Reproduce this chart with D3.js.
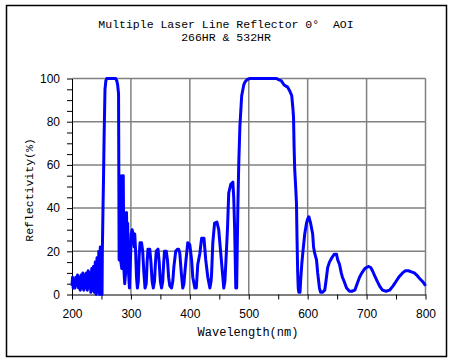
<!DOCTYPE html>
<html lang="en">

<head>
    <meta charset="UTF-8">
    <title>Multiple Laser Line Reflector</title>
    <script src="https://d3js.org/d3.v7.min.js"></script>
    <style>
        body { margin: 0; background: #fff; }
        svg { display: block; }
        .tick text { font-family: "Liberation Sans", Arial, sans-serif; font-size: 12px; fill: #000; }
        .mono { font-family: "Liberation Mono", "DejaVu Sans Mono", monospace; fill: #000; white-space: pre; }
    </style>
</head>

<body>
    <svg width="453" height="362"></svg>
    <script>
        const titleLines = ["Multiple Laser Line Reflector 0\u00B0  AOI", "266HR & 532HR"];
        const xLabel = "Wavelength(nm)";
        const yLabel = "Reflectivity(%)";
        const xTicks = [200, 300, 400, 500, 600, 700, 800];
        const yTicks = [0, 20, 40, 60, 80, 100];

        // [wavelength nm, reflectivity %]
        const spectrum = [
            [200, 4], [201, 8], [202, 3], [203.5, 7], [205, 3], [206.5, 8], [208, 4], [209.5, 9], [211, 3], [212.5, 8],
            [214, 2], [215.5, 9], [217, 3], [218.5, 10], [220, 2], [221.5, 9], [223, 3], [224.5, 10], [226, 2], [227.5, 11],
            [229, 3], [230.5, 10], [232, 1], [233.5, 12], [235, 2], [236.5, 13], [238, 1], [239.5, 15], [241, 0], [242.5, 17],
            [244, 1], [245.5, 20], [247, 0], [248, 22], [249, 1], [250, 21], [251, 0], [251.5, 20], [252.5, 38], [253.5, 54],
            [254.5, 73], [256, 95], [257.5, 99], [259, 100], [262, 100], [270, 100], [274, 100], [276, 99], [277.5, 97], [279, 93],
            [280, 16], [281, 55], [282, 55], [283, 15], [284.5, 12], [286, 55], [287, 55], [288, 12], [289.5, 5], [291, 10],
            [292.5, 38], [293.5, 19], [294.5, 33], [296, 10], [297.5, 3], [299, 14], [300.5, 28], [302, 30], [304, 28], [305.5, 22],
            [306.5, 28], [308, 20], [309.5, 8], [311, 3], [312.5, 6], [314, 18], [315.5, 24], [318, 24], [320, 20], [322, 10],
            [324, 3], [326, 5], [327.5, 15], [329, 21], [332, 21], [334, 15], [336, 6], [338, 3], [340, 6], [341.5, 14],
            [343, 20], [346, 21], [348, 15], [350, 6], [352, 3], [354, 6], [355.5, 14], [357, 20], [360, 20], [362, 16],
            [364, 8], [366, 4], [369, 3], [371, 6], [373, 13], [376, 20], [379, 21], [381, 21], [383, 19], [385.5, 10],
            [388, 3], [390, 5], [391.5, 10], [393.5, 16], [396.5, 24], [400, 23], [403, 16], [405, 8], [408.5, 3], [411, 3],
            [413.5, 14], [417, 19], [420, 26], [424, 26], [427, 16], [430.5, 8], [434, 3], [436, 6], [437, 10], [439, 24],
            [442, 33], [446, 33.5], [449, 30], [452.5, 19], [456, 8], [457.6, 3], [459.5, 6], [461, 14], [464, 31], [466, 47],
            [469.5, 51], [473, 52], [474.5, 45], [476, 31], [478, 3], [479.5, 3], [480.5, 22], [481.5, 40], [483, 60], [485, 78],
            [488, 92], [491.5, 97], [494, 98.5], [497, 99.5], [502, 100], [520, 100], [547, 100], [550, 99.5], [555, 99], [560, 97],
            [566, 96], [570, 94], [573, 92], [575, 86], [576, 82], [577, 68], [578, 58], [580, 48], [581, 42], [582, 25],
            [583, 11], [584, 3], [585, 1], [587, 1], [588, 6], [590, 14], [592, 20], [595, 28], [598, 33], [600, 35],
            [602, 36], [605, 33], [608.5, 28], [610, 22], [612, 19], [615, 16], [617, 10], [620, 3], [622, 1], [625, 1],
            [629, 2], [631, 6], [634, 12.5], [637, 15], [641, 17], [645, 18.6], [649, 18.6], [651, 16], [654, 14], [657, 10],
            [659, 8], [662, 6], [666, 3], [671, 1.5], [675, 1.5], [680, 2], [684, 5], [688, 8], [692, 10], [697, 12],
            [703, 13], [707, 12.5], [710, 11], [714, 8.5], [719, 5.6], [723, 3.5], [727, 2], [733, 1.5], [739, 2], [745, 4],
            [751, 6.5], [756, 8.5], [761, 10], [766, 11], [771, 11], [776, 10.5], [781, 10], [785, 9], [790, 7.4], [795, 6],
            [798, 5], [800, 4]
        ];

        const svg = d3.select("svg");

        const x = d3.scaleLinear().domain([200, 800]).range([72, 425.5]);
        const y = d3.scaleLinear().domain([0, 100]).range([294.5, 78.5]);

        // outer frame
        svg.append("rect")
            .attr("x", 6.5).attr("y", 5.5)
            .attr("width", 440).attr("height", 351)
            .attr("fill", "#fff")
            .attr("stroke", "#000")
            .attr("stroke-width", 1.5);

        // title, two separate lines
        svg.selectAll(".title")
            .data(titleLines)
            .join("text")
            .attr("class", "mono title")
            .attr("text-anchor", "middle")
            .attr("font-size", 11.5)
            .attr("x", 226)
            .attr("y", (d, i) => 28 + i * 12.5)
            .text(d => d);

        // grid
        const grid = svg.append("g").attr("stroke", "#808080").attr("stroke-width", 1.5);
        grid.selectAll(".vg").data(xTicks.slice(1)).join("line")
            .attr("x1", d => x(d)).attr("x2", d => x(d))
            .attr("y1", y(0)).attr("y2", y(100));
        grid.selectAll(".hg").data(yTicks.slice(1)).join("line")
            .attr("x1", x(200)).attr("x2", x(800))
            .attr("y1", d => y(d)).attr("y2", d => y(d));

        // axes
        const xAxis = d3.axisBottom(x)
            .tickValues(d3.range(200, 801, 50))
            .tickSize(5).tickSizeOuter(0).tickPadding(10)
            .tickFormat(d => d % 100 === 0 ? d : "");
        const yAxis = d3.axisLeft(y)
            .tickValues(d3.range(0, 101, 5))
            .tickSize(5).tickSizeOuter(0).tickPadding(7)
            .tickFormat(d => d % 20 === 0 ? d : "");

        svg.append("g").attr("transform", `translate(0,${y(0)})`).call(xAxis)
            .call(g => g.selectAll("line, path").attr("stroke", "#000"));
        svg.append("g").attr("transform", `translate(${x(200)},0)`).call(yAxis)
            .call(g => g.selectAll("line, path").attr("stroke", "#000"));

        // curve
        const line = d3.line()
            .x(d => x(d[0]))
            .y(d => y(d[1]));

        svg.append("path")
            .datum(spectrum)
            .attr("fill", "none")
            .attr("stroke", "#0000ff")
            .attr("stroke-width", 3)
            .attr("stroke-linejoin", "round")
            .attr("d", line);

        // axis labels
        svg.append("text")
            .attr("class", "mono")
            .attr("font-size", 12)
            .attr("text-anchor", "middle")
            .attr("x", 248).attr("y", 336)
            .text(xLabel);

        svg.append("text")
            .attr("class", "mono")
            .attr("font-size", 11.5)
            .attr("text-anchor", "middle")
            .attr("transform", "translate(33,190) rotate(-90)")
            .text(yLabel);
    </script>
</body>

</html>
